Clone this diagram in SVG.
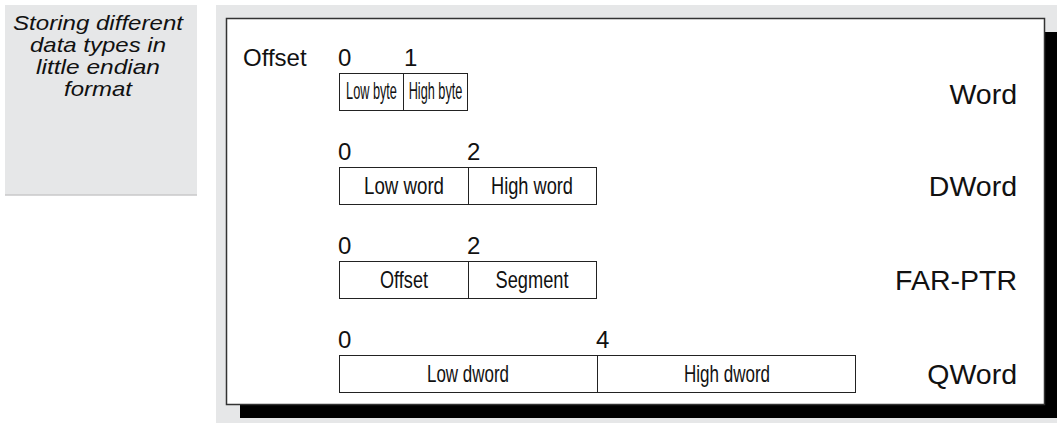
<svg xmlns="http://www.w3.org/2000/svg" width="1057" height="423" viewBox="0 0 1057 423">
<style>
.panel{fill:#e6e7e8}
.cell{fill:#fff;stroke:#222;stroke-width:1}
.ct{font-family:"Liberation Sans",Arial,sans-serif;font-size:24px;fill:#111;text-anchor:middle}
.num{font-family:"Liberation Sans",Arial,sans-serif;font-size:24px;fill:#111}
.lbl{font-family:"Liberation Sans",Arial,sans-serif;font-size:28.5px;fill:#111;text-anchor:end}
.cap{font-family:"Liberation Sans",Arial,sans-serif;font-size:21px;font-style:italic;fill:#111;text-anchor:middle}
</style>
<rect width="1057" height="423" fill="#fff"/>
<g id="caption">
<rect class="panel" x="5" y="5" width="192" height="190"/>
<line x1="5" y1="195" x2="197" y2="195" stroke="#c8c9ca" stroke-width="1.5"/>
<text class="cap" x="98" y="30" textLength="170" lengthAdjust="spacingAndGlyphs">Storing different</text>
<text class="cap" x="98" y="52" textLength="136" lengthAdjust="spacingAndGlyphs">data types in</text>
<text class="cap" x="98" y="74" textLength="124" lengthAdjust="spacingAndGlyphs">little endian</text>
<text class="cap" x="98" y="96" textLength="68" lengthAdjust="spacingAndGlyphs">format</text>
</g>
<g id="frame">
<rect class="panel" x="216" y="5" width="841" height="418"/>
<rect x="240" y="32" width="830" height="386" fill="#000"/>
<rect x="226.5" y="18.5" width="818" height="386" fill="#fff" stroke="#333" stroke-width="1.5"/>
<text class="num" x="243" y="66">Offset</text>
</g>
<g id="word">
<text class="num" x="338" y="66">0</text>
<text class="num" x="404" y="66">1</text>
<rect class="cell" x="339.5" y="73.5" width="64" height="37"/>
<rect class="cell" x="403.5" y="73.5" width="64" height="37"/>
<text class="ct" transform="translate(371.5,99) scale(0.53,1)">Low byte</text>
<text class="ct" transform="translate(435.5,99) scale(0.53,1)">High byte</text>
<text class="lbl" x="1017" y="104">Word</text>
</g>
<g id="dword">
<text class="num" x="338" y="160">0</text>
<text class="num" x="467" y="160">2</text>
<rect class="cell" x="339.5" y="167.5" width="129" height="37"/>
<rect class="cell" x="468.5" y="167.5" width="128" height="37"/>
<text class="ct" x="404" y="194" textLength="80" lengthAdjust="spacingAndGlyphs">Low word</text>
<text class="ct" x="532" y="194" textLength="82" lengthAdjust="spacingAndGlyphs">High word</text>
<text class="lbl" x="1017" y="196">DWord</text>
</g>
<g id="farptr">
<text class="num" x="338" y="254">0</text>
<text class="num" x="467" y="254">2</text>
<rect class="cell" x="339.5" y="261.5" width="129" height="37"/>
<rect class="cell" x="468.5" y="261.5" width="128" height="37"/>
<text class="ct" x="404" y="288" textLength="48" lengthAdjust="spacingAndGlyphs">Offset</text>
<text class="ct" x="532" y="288" textLength="73" lengthAdjust="spacingAndGlyphs">Segment</text>
<text class="lbl" x="1017" y="290">FAR-PTR</text>
</g>
<g id="qword">
<text class="num" x="338" y="348">0</text>
<text class="num" x="596" y="348">4</text>
<rect class="cell" x="339.5" y="355.5" width="258" height="37"/>
<rect class="cell" x="597.5" y="355.5" width="258" height="37"/>
<text class="ct" x="468" y="382" textLength="82" lengthAdjust="spacingAndGlyphs">Low dword</text>
<text class="ct" x="727" y="382" textLength="86" lengthAdjust="spacingAndGlyphs">High dword</text>
<text class="lbl" x="1017" y="384">QWord</text>
</g>
<g id="connectors"/>
</svg>
